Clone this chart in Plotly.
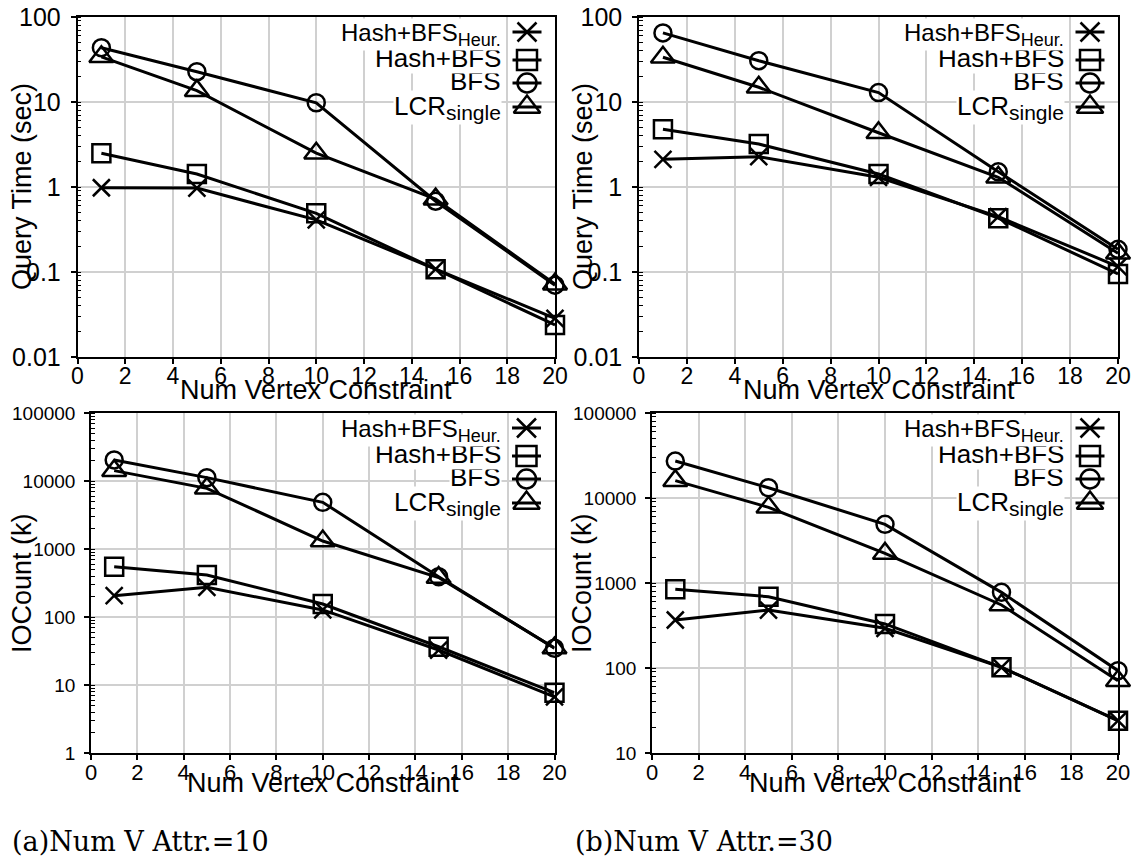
import plotly.graph_objects as go

W, H = 1138, 862

# ---------------- data ----------------
x_vals = [1, 5, 10, 15, 20]

series_names = ["Hash+BFS<sub><span style='font-size:18px'>Heur.</span></sub>", "Hash+BFS", "BFS",
                "LCR<sub><span style='font-size:21px'>single</span></sub>"]

qt10_heur = [0.98, 0.97, 0.41, 0.108, 0.0285]
qt10_hash = [2.5, 1.42, 0.49, 0.108, 0.0238]
qt10_bfs = [43.5, 22.7, 9.8, 0.68, 0.070]
qt10_lcr = [34, 13.6, 2.5, 0.72, 0.072]

qt30_heur = [2.12, 2.27, 1.3, 0.448, 0.116]
qt30_hash = [4.77, 3.2, 1.42, 0.43, 0.095]
qt30_bfs = [65, 30.6, 12.9, 1.51, 0.185]
qt30_lcr = [33.6, 14.9, 4.35, 1.3, 0.166]

io10_heur = [206, 273, 127, 32.7, 6.7]
io10_hash = [550, 415, 155, 36.5, 7.7]
io10_bfs = [20400, 11200, 4860, 392, 34.7]
io10_lcr = [14200, 7800, 1310, 380, 35]

io30_heur = [367, 481, 293, 102, 24]
io30_hash = [843, 690, 330, 102, 24]
io30_bfs = [27200, 13200, 4900, 776, 93]
io30_lcr = [16000, 7770, 2230, 551, 70.8]

x_tick_vals = [0, 2, 4, 6, 8, 10, 12, 14, 16, 18, 20]
qt_tick_vals = [0.01, 0.1, 1, 10, 100]
qt_tick_text = ["0.01", "0.1", "1", "10", "100"]
io10_tick_vals = [1, 10, 100, 1000, 10000, 100000]
io10_tick_text = ["1", "10", "100", "1000", "10000", "100000"]
io30_tick_vals = [10, 100, 1000, 10000, 100000]
io30_tick_text = ["10", "100", "1000", "10000", "100000"]

x_title = "Num Vertex Constraint"
qt_title = "Query Time (sec)"
io_title = "IOCount (k)"
captions = ["(a)Num V Attr.=10", "(b)Num V Attr.=30"]

# ---------------- style ----------------
FONT = "Liberation Sans"
symbols = ["x-thin-open", "square-open", "circle-open", "triangle-up-open"]
msizes = [17, 18, 17, 21]
GRID = "#d0d0d0"

# panel pixel boxes: left, right, top, bottom
panels = [
    dict(box=(77.5, 555, 17, 357), data=[qt10_heur, qt10_hash, qt10_bfs, qt10_lcr],
         yr=[-2, 2], tv=qt_tick_vals, tt=qt_tick_text, ytitle=qt_title, ytx=22,
         yfs=25, xfs=23, xt_y=390, xso=-7),
    dict(box=(639, 1118, 17, 357), data=[qt30_heur, qt30_hash, qt30_bfs, qt30_lcr],
         yr=[-2, 2], tv=qt_tick_vals, tt=qt_tick_text, ytitle=qt_title, ytx=583,
         yfs=25, xfs=23, xt_y=390, xso=-7),
    dict(box=(91, 554.5, 413, 753), data=[io10_heur, io10_hash, io10_bfs, io10_lcr],
         yr=[0, 5], tv=io10_tick_vals, tt=io10_tick_text, ytitle=io_title, ytx=22,
         yfs=19, xfs=22, xt_y=783, xso=-6),
    dict(box=(652, 1118, 413, 753), data=[io30_heur, io30_hash, io30_bfs, io30_lcr],
         yr=[1, 5], tv=io30_tick_vals, tt=io30_tick_text, ytitle=io_title, ytx=582,
         yfs=19, xfs=22, xt_y=783, xso=-6),
]

fig = go.Figure()
annotations = []

def px_x(p):
    return p / W

def px_y(p):
    return 1 - p / H

base_off = [23, 50, 73, 96]
key_off = [15, 43, 66, 90]
fsz = [24, 26, 26, 26]

for i, pn in enumerate(panels):
    n = i + 1
    xa = "x" if n == 1 else f"x{n}"
    ya = "y" if n == 1 else f"y{n}"
    l, r, t, b = pn["box"]
    for k, ser in enumerate(pn["data"]):
        fig.add_trace(go.Scatter(
            x=x_vals, y=ser, xaxis=xa, yaxis=ya, mode="lines+markers",
            line=dict(color="black", width=3),
            marker=dict(symbol=symbols[k], size=msizes[k], color="black",
                        line=dict(color="black", width=2.5)),
            showlegend=False, cliponaxis=False))
    xkey = "xaxis" if n == 1 else f"xaxis{n}"
    ykey = "yaxis" if n == 1 else f"yaxis{n}"
    fig.update_layout(**{
        xkey: dict(domain=[px_x(l), px_x(r)], anchor=ya, range=[0, 20], automargin=False,
                   tickmode="array", tickvals=x_tick_vals,
                   ticks="outside", ticklen=5, tickwidth=1.5, tickcolor="black",
                   ticklabelstandoff=pn["xso"],
                   showline=True, linecolor="black", linewidth=1.5, mirror=True,
                   showgrid=True, gridcolor=GRID, gridwidth=1.5, zeroline=False,
                   tickfont=dict(family=FONT, size=pn["xfs"], color="black")),
        ykey: dict(domain=[px_y(b), px_y(t)], anchor=xa, type="log", range=pn["yr"],
                   automargin=False,
                   tickmode="array", tickvals=pn["tv"], ticktext=pn["tt"],
                   ticks="outside", ticklen=5, tickwidth=1.5, tickcolor="black",
                   ticklabelstandoff=5,
                   showline=True, linecolor="black", linewidth=1.5, mirror=True,
                   showgrid=True, gridcolor=GRID, gridwidth=1.5, zeroline=False,
                   minor=dict(ticks="inside", ticklen=4, tickwidth=1, tickcolor="black",
                              dtick="D1", showgrid=False),
                   tickfont=dict(family=FONT, size=pn["yfs"], color="black")),
    })
    # axis titles
    annotations.append(dict(text=x_title, xref="paper", yref="paper",
                            x=px_x((l + r) / 2), y=px_y(pn["xt_y"]),
                            xanchor="center", yanchor="middle", showarrow=False,
                            font=dict(family=FONT, size=27, color="black")))
    annotations.append(dict(text=pn["ytitle"], xref="paper", yref="paper",
                            x=px_x(pn["ytx"]), y=px_y((t + b) / 2), textangle=-90,
                            xanchor="center", yanchor="middle", showarrow=False,
                            font=dict(family=FONT, size=27, color="black")))
    # custom legend (text left of key, as in the original); drawn bottom row first
    for k in reversed(range(len(series_names))):
        name = series_names[k]
        has_sub = "<sub>" in name
        mid = t + base_off[k] - fsz[k] * (0.23 if has_sub else 0.35)
        annotations.append(dict(text=name, xref="paper", yref="paper",
                                x=px_x(r - 53), y=px_y(mid), xanchor="right",
                                yanchor="middle", showarrow=False, bgcolor="white",
                                borderpad=0,
                                font=dict(family=FONT, size=fsz[k], color="black")))
    for k in range(len(series_names)):
        cx, cy = r - 28, t + key_off[k]
        fig.add_trace(go.Scatter(x=[cx - 14.5, cx + 14.5], y=[cy, cy], xaxis="x5", yaxis="y5",
                                 mode="lines", line=dict(color="black", width=3),
                                 showlegend=False, hoverinfo="skip"))
        fig.add_trace(go.Scatter(x=[cx], y=[cy], xaxis="x5", yaxis="y5", mode="markers",
                                 marker=dict(symbol=symbols[k], size=msizes[k] + 2, color="black",
                                             line=dict(color="black", width=2.5)),
                                 showlegend=False, hoverinfo="skip"))

for j, cap in enumerate(captions):
    annotations.append(dict(text=cap, xref="paper", yref="paper",
                            x=px_x([10, 573][j]), y=px_y(841),
                            xanchor="left", yanchor="middle", showarrow=False,
                            font=dict(family="DejaVu Serif", size=27, color="black")))

fig.update_layout(
    xaxis5=dict(domain=[0, 1], range=[0, W], visible=False, anchor="y5", fixedrange=True,
                automargin=False),
    yaxis5=dict(domain=[0, 1], range=[H, 0], visible=False, anchor="x5", fixedrange=True,
                automargin=False),
    width=W, height=H, margin=dict(l=0, r=0, t=0, b=0, autoexpand=False),
    paper_bgcolor="white", plot_bgcolor="rgba(0,0,0,0)",
    annotations=annotations, showlegend=False,
)

fig.write_html("out.html")
